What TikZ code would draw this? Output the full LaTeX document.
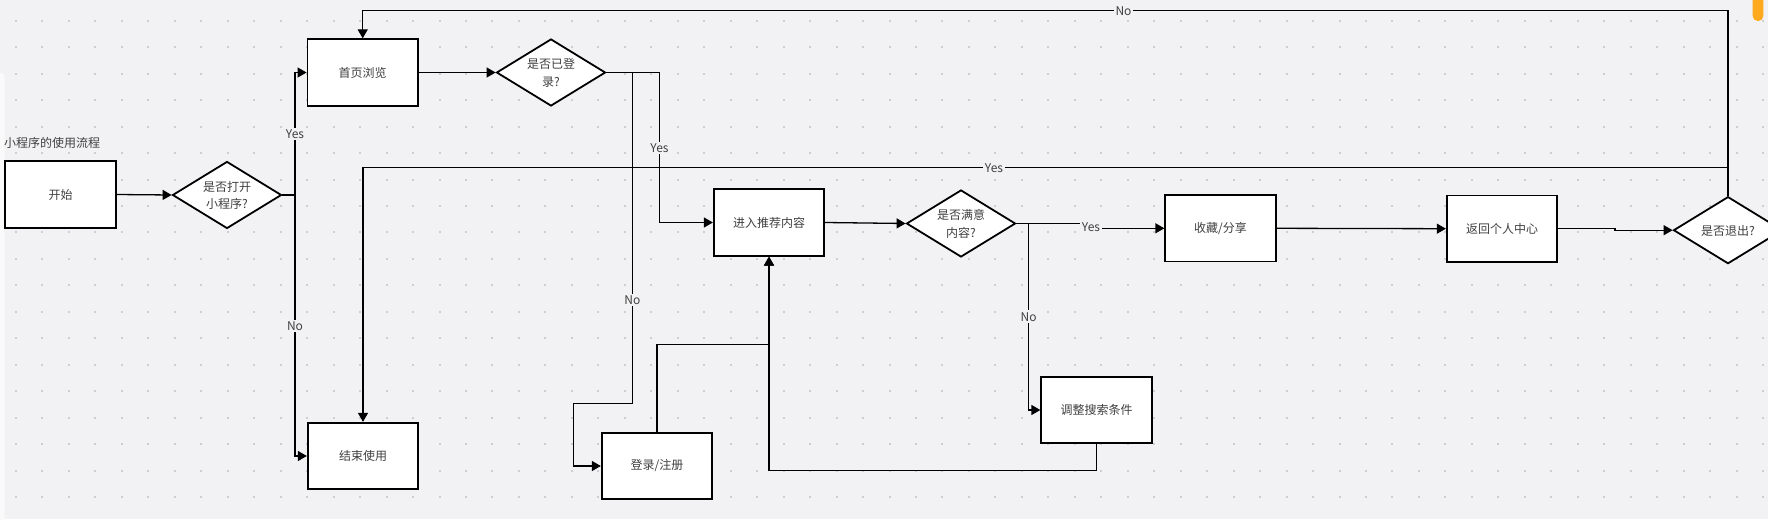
\documentclass[tikz,border=0pt]{standalone}
\usepackage{fontspec}
\newfontfamily\cjk{Noto Sans CJK SC}
\usetikzlibrary{arrows.meta,shapes.geometric}
\definecolor{bgc}{HTML}{F2F2F4}
\definecolor{dotc}{HTML}{CDCDD2}
\definecolor{txtc}{HTML}{404040}
\definecolor{orangec}{HTML}{FFAA1E}
\tikzset{
  box/.style={draw=black, line width=1.8pt, fill=white, minimum width=110.5pt, minimum height=66.5pt, inner sep=0pt, font=\cjk\fontsize{12}{17.3}\selectfont, text=txtc},
  decision/.style={draw=black, line width=1.8pt, fill=white, shape=diamond, minimum width=109pt, minimum height=67pt, inner sep=0pt},
  dtext/.style={font=\cjk\fontsize{12}{17.3}\selectfont, text=txtc, align=center, inner sep=0pt},
  conn/.style={draw=black, line width=1.3pt, -{Triangle[length=9pt,width=10pt]}},
  plain/.style={draw=black, line width=1.3pt},
  lbl/.style={fill=bgc, font=\cjk\fontsize{12}{14}\selectfont, text=txtc, inner sep=2pt},
}
\begin{document}
\begin{tikzpicture}[x=1pt, y=-1pt]
\useasboundingbox (0,0) rectangle (1768,519);
\clip (0,0) rectangle (1768,519);
\fill[bgc] (0,0) rectangle (1768,519);
% left panel strip
\fill[white!60!bgc, rounded corners=4pt] (-10,73) rectangle (4.5,530);
% dot grid
\foreach \i in {0,...,66}{
  \foreach \j in {0,...,18}{
    \fill[dotc] ({16+26.47*\i-1},{20.7+26.47*\j-1}) rectangle ++(2,2);
  }
}
% orange marker
\fill[orangec, rounded corners=5pt] (1752.7,-10) rectangle (1763.3,21);

% title
\node[font=\cjk\fontsize{12}{14}\selectfont, text=txtc, anchor=west, inner sep=0pt] (title) at (4,143) {小程序的使用流程};

% nodes
\node[box] (start) at (60.5,194.5) {开始};
\node[decision] (d1) at (227,195) {};
\node[dtext] (d1t) at (227,195.5) {是否打开\\小程序?};
\node[box] (home) at (362.7,72.5) {首页浏览};
\node[box] (endn) at (363,456) {结束使用};
\node[decision] (d2) at (551,72.5) {};
\node[dtext] (d2t) at (551,73) {是否已登\\录?};
\node[box] (rec) at (769,222.5) {进入推荐内容};
\node[box] (login) at (657,466) {登录/注册};
\node[decision] (d3) at (961,223.5) {};
\node[dtext] (d3t) at (961,224) {是否满意\\内容?};
\node[box] (fav) at (1220.5,228.3) {收藏/分享};
\node[box] (adj) at (1096.5,410) {调整搜索条件};
\node[box] (back) at (1502,228.7) {返回个人中心};
\node[decision] (d4) at (1728,230.2) {};
\node[dtext] (d4t) at (1728,230.5) {是否退出?};

% connectors
\draw[conn] (start.east) -- (d1.west);
\draw[conn] (d1.east) -- (295,195) |- (home.west);
\draw[conn] (d1.east) -- (295,195) |- (endn.west);
\node[lbl] (l1) at (295,134) {Yes};
\node[lbl] (l2) at (295,326) {No};

\draw[conn] (home.east) -- (d2.west);
\draw[conn] (d2.east) -- (659.5,72.5) |- (rec.west);
\draw[conn] (d2.east) -- (632.3,72.5) -- (632.3,403.7) -- (573.5,403.7) |- (login.west);
\node[lbl] (l3) at (659.5,148) {Yes};
\node[lbl] (l4) at (632.3,300) {No};

\draw[conn] (login.north) -- (657,344.3) -| (rec.south);
\draw[conn] (adj.south) -- (1096.5,470.7) -| (rec.south);

\draw[conn] (rec.east) -- (d3.west);
\draw[conn] (d3.east) -- (1091,223.5) -- (1091,228.3) -- (fav.west);
\draw[conn] (d3.east) -- (1028.7,223.5) |- (adj.west);
\node[lbl] (l5) at (1091,226.7) {Yes};
\node[lbl] (l6) at (1028.7,316.7) {No};

\draw[conn] (fav.east) -- (back.west);
\draw[conn] (back.east) -- (1615,228.7) -- (1615,230.2) -- (d4.west);

\draw[conn] (d4.north) -- (1728,10.7) -| (home.north);
\draw[conn] (d4.north) -- (1728,167.7) -| (endn.north);
\node[lbl] (l7) at (1123.5,10.7) {No};
\node[lbl] (l8) at (994,168.5) {Yes};
\end{tikzpicture}
\end{document}
